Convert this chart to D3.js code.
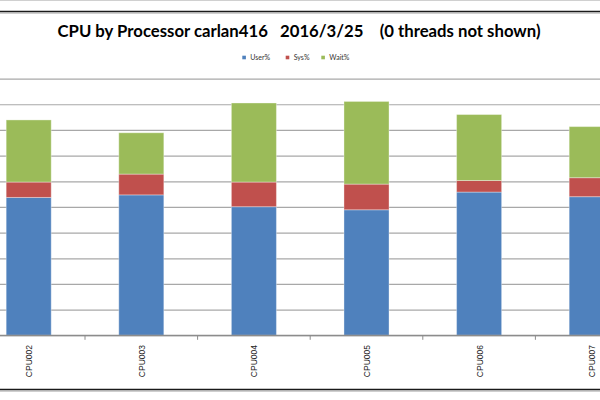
<!DOCTYPE html>
<html>
<head>
<meta charset="utf-8">
<script src="https://cdn.jsdelivr.net/npm/d3@7"></script>
<style>
  html, body { margin: 0; padding: 0; background: #fff; }
  svg { display: block; }
</style>
</head>
<body>
<svg id="chart" width="600" height="400"></svg>
<script>
const categories = ["CPU002", "CPU003", "CPU004", "CPU005", "CPU006", "CPU007"];
const userPct = [53.7, 54.7, 50.1, 48.9, 55.8, 54.0];
const sysPct  = [6.0, 8.1, 9.6, 10.0, 4.5, 7.4];
const waitPct = [24.2, 16.1, 30.8, 32.2, 25.7, 19.9];
const seriesNames = ["User%", "Sys%", "Wait%"];
const seriesColors = ["#4F81BD", "#C0504D", "#9BBB59"];
const yTicks = [0, 10, 20, 30, 40, 50, 60, 70, 80, 90, 100];
const titleText = "CPU by Processor carlan416   2016/3/25    (0 threads not shown)";

const svg = d3.select("#chart");
const W = 600, H = 400;

// frame lines (cropped chart border)
svg.append("line").attr("x1", 0).attr("x2", W).attr("y1", 0.5).attr("y2", 0.5)
  .attr("stroke", "#d0d0d0").attr("stroke-width", 1);
svg.append("line").attr("x1", 0).attr("x2", W).attr("y1", 11.5).attr("y2", 11.5)
  .attr("stroke", "#1a1a1a").attr("stroke-width", 1.6);
svg.append("line").attr("x1", 0).attr("x2", W).attr("y1", 13).attr("y2", 13)
  .attr("stroke", "#a0a0a0").attr("stroke-width", 1);
svg.append("line").attr("x1", 0).attr("x2", W).attr("y1", 389.5).attr("y2", 389.5)
  .attr("stroke", "#1a1a1a").attr("stroke-width", 1.6);
svg.append("line").attr("x1", 0).attr("x2", W).attr("y1", 391).attr("y2", 391)
  .attr("stroke", "#a0a0a0").attr("stroke-width", 1);

// plot geometry (plot extends beyond the visible crop)
const plotLeft = -27.6, plotRight = 648, plotTop = 78.6, plotBottom = 335.3;

const x = d3.scaleBand().domain(categories).range([plotLeft, plotRight])
  .paddingInner(0.6).paddingOuter(0.3);
const y = d3.scaleLinear().domain([0, 100]).range([plotBottom, plotTop]);

// gridlines via axis
const grid = svg.append("g").attr("transform", `translate(${plotLeft},0)`)
  .call(d3.axisLeft(y).tickValues(yTicks).tickSize(-(plotRight - plotLeft)).tickFormat(""));
grid.select(".domain").remove();
grid.selectAll(".tick line").attr("stroke", "#a8a8a8").attr("stroke-width", 1.2);

// stacked data
const table = categories.map((c, i) => ({ cat: c, "User%": userPct[i], "Sys%": sysPct[i], "Wait%": waitPct[i] }));
const stacked = d3.stack().keys(seriesNames)(table);

svg.append("g").selectAll("g").data(stacked).join("g")
  .attr("fill", (d, i) => seriesColors[i])
  .selectAll("rect").data(d => d).join("rect")
  .attr("x", d => x(d.data.cat))
  .attr("width", x.bandwidth())
  .attr("y", d => y(d[1]))
  .attr("height", d => y(d[0]) - y(d[1]))
  .attr("stroke", "rgba(255,255,255,0.35)")
  .attr("stroke-width", 1);

// x axis
const step = x.step();
const boundaries = d3.range(categories.length + 1).map(i => x(categories[0]) + x.bandwidth() / 2 - step / 2 + i * step);
svg.append("line").attr("x1", plotLeft).attr("x2", plotRight)
  .attr("y1", plotBottom).attr("y2", plotBottom)
  .attr("stroke", "#8c8c8c").attr("stroke-width", 1.2);
svg.append("g").selectAll("line").data(boundaries).join("line")
  .attr("x1", d => d).attr("x2", d => d)
  .attr("y1", plotBottom).attr("y2", plotBottom + 4.5)
  .attr("stroke", "#8c8c8c").attr("stroke-width", 1);

svg.append("g").selectAll("text").data(categories).join("text")
  .attr("transform", d => `translate(${x(d) + x.bandwidth() / 2 + 3.5},345) rotate(-90)`)
  .attr("text-anchor", "end")
  .attr("font-family", "Liberation Sans, Arial, sans-serif")
  .attr("font-size", 8.5)
  .attr("fill", "#222")
  .text(d => d);

// title
svg.append("text")
  .attr("x", 299).attr("y", 37)
  .attr("text-anchor", "middle")
  .attr("font-family", "Lato, 'Open Sans', sans-serif")
  .attr("font-weight", "bold")
  .attr("font-size", 17)
  .attr("fill", "#000")
  .attr("textLength", 483)
  .attr("lengthAdjust", "spacingAndGlyphs")
  .style("white-space", "pre")
  .text(titleText);

// legend
const legendX = [242.3, 285.7, 321.3];
const lg = svg.append("g").selectAll("g").data(seriesNames).join("g")
  .attr("transform", (d, i) => `translate(${legendX[i]},55.7)`);
lg.append("rect").attr("width", 3.6).attr("height", 3.6)
  .attr("fill", (d, i) => seriesColors[i]);
lg.append("text").attr("x", 8).attr("y", 4.3)
  .attr("font-family", "Lato, 'Open Sans', sans-serif")
  .attr("font-size", 7)
  .attr("fill", "#333")
  .text(d => d);
</script>
</body>
</html>
